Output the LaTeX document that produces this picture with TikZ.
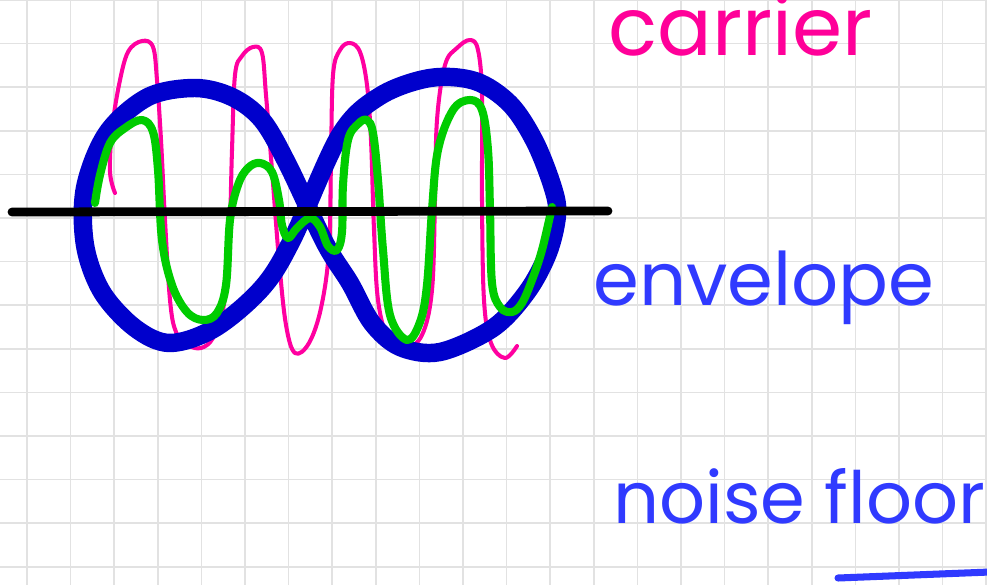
\documentclass[tikz,border=0pt]{standalone}
\usepackage{fontspec}
\newfontfamily\handfont{Poppins}
\definecolor{gridgray}{RGB}{226,226,226}
\definecolor{carrierpink}{RGB}{255,0,160}
\definecolor{envblue}{RGB}{0,0,204}
\definecolor{sigreen}{RGB}{0,204,0}
\definecolor{tagpink}{RGB}{255,0,153}
\definecolor{tagblue}{RGB}{48,58,255}

\begin{document}
\begin{tikzpicture}[
    x=0.02cm, y=-0.02cm,
    every node/.style={font={\handfont\fontsize{42}{42}\selectfont}, inner sep=0pt, anchor=base west},
    gridline/.style={draw=gridgray, line width=0.85pt},
    carrierwave/.style={draw=carrierpink, line width=2.3pt, line cap=round, line join=round},
    envelopewave/.style={draw=envblue, line width=10.5pt, line cap=round, line join=round},
    signalwave/.style={draw=sigreen, line width=4.6pt, line cap=round, line join=round},
    axisline/.style={draw=black, line width=5pt, line cap=round},
    floorline/.style={draw=tagblue, line width=4pt, line cap=round}
]
\useasboundingbox[fill=white] (0,0) rectangle (987,585);

% squared paper
\foreach \k in {0,...,22}
  \draw[gridline] ({27+43.6*\k},0) -- ({27+43.6*\k},585);
\foreach \k in {0,...,13}
  \draw[gridline] (0,{43.6*\k}) -- (987,{43.6*\k});

% carrier
\draw[carrierwave] plot[smooth, tension=0.6] coordinates {
  (115,193) (110,172) (112,130) (119,85) (128,52) (142,41) (153,47) (157,80)
  (161,140) (165,220) (170,300) (176,332) (188,345) (201,348) (213,338) (223,310)
  (229,250) (232,150) (235,75) (242,56) (253,47) (262,53) (266,95) (272,170)
  (279,260) (286,325) (295,353) (309,343) (321,308) (329,250) (331,160) (333,75)
  (340,50) (350,43) (360,52) (367,85) (371,140) (374,230) (378,300) (388,338)
  (405,348) (422,335) (432,290) (435,200) (437,120) (445,65) (457,48) (470,40)
  (478,50) (482,95) (482,200) (484,300) (491,343) (505,358) (517,346)};

% envelope
\draw[envelopewave] plot[smooth cycle, tension=0.55] coordinates {
  (288,165) (262,120) (232,97) (195,88) (148,97) (107,133) (85,188) (85,245)
  (102,292) (135,328) (170,343) (215,328) (262,288) (292,240)
  (340,135) (380,96) (430,78) (475,81) (510,104) (535,142) (553,188) (557,215)
  (548,253) (527,292) (493,328) (440,352) (400,347) (372,323) (350,283) (325,243)};

% modulated signal
\draw[signalwave] plot[smooth, tension=0.6] coordinates {
  (95,203) (100,175) (110,143) (125,128) (142,120) (153,132) (158,170) (162,240)
  (172,285) (187,312) (203,320) (217,313) (226,285) (230,220) (238,185) (248,168)
  (260,163) (272,172) (279,200) (282,225) (288,238) (297,228) (310,218) (320,227)
  (328,246) (337,250) (342,232) (343,185) (348,140) (358,124) (367,120) (373,133)
  (378,180) (383,250) (390,315) (407,340) (420,322) (427,285) (432,210) (438,150)
  (453,110) (470,100) (482,110) (488,150) (490,210) (492,283) (500,307) (512,312)
  (522,303) (532,280) (542,250) (552,207)};

% zero line
\coordinate (axis west) at (12,212);
\coordinate (axis east) at (608,211);
\draw[axisline] (axis west) -- (axis east);

% labels
\node[text=tagpink, font={\handfont\fontsize{46}{46}\selectfont}] (carrier) at (608,55) {carrier};
\node[text=tagblue] (envelope) at (593,305) {envelope};
\node[text=tagblue, font={\handfont\fontsize{41}{41}\selectfont}] (noise) at (613,523) {noise floor};
\coordinate (floor west) at (838,578);
\coordinate (floor east) at (990,572);
\draw[floorline] (floor west) -- (floor east);
\end{tikzpicture}
\end{document}
